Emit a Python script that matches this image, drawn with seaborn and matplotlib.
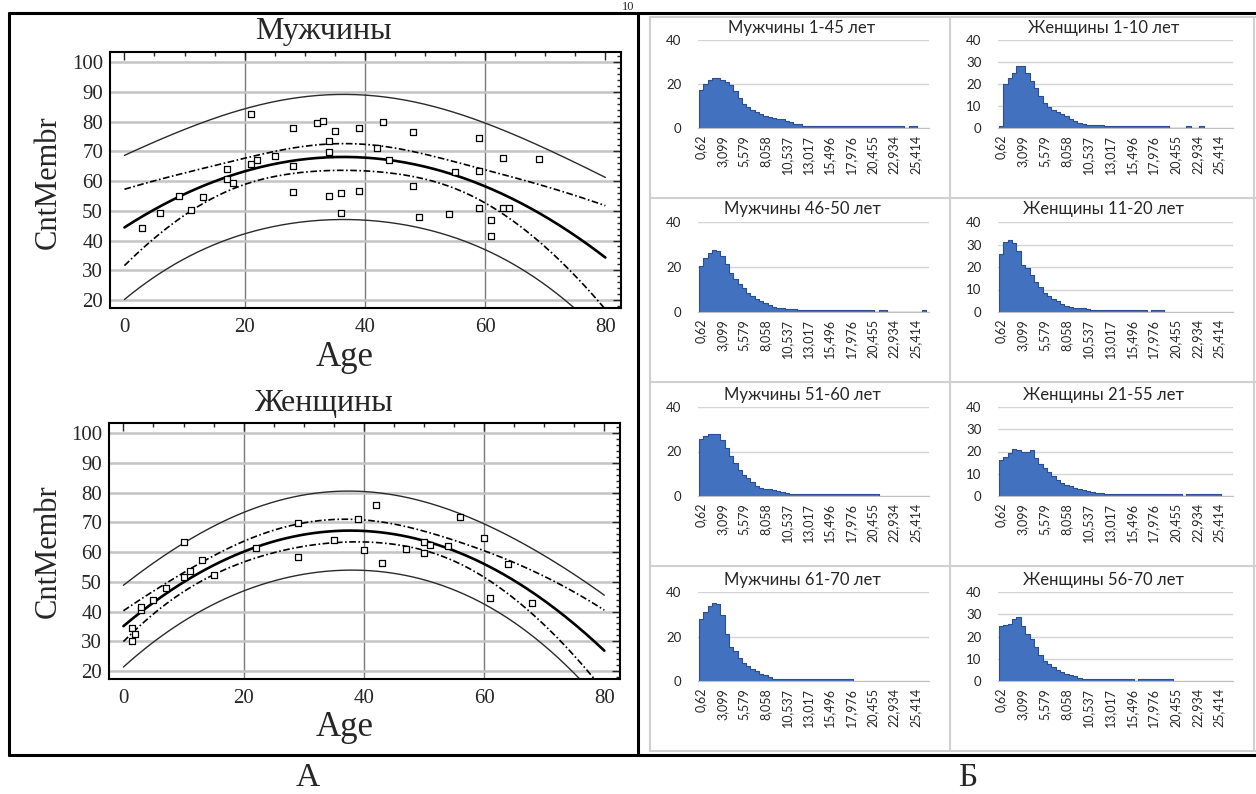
"""Age vs CntMembr quadratic fits (left) and length histograms by age group (right)."""
import numpy as np
import pandas as pd
import matplotlib
matplotlib.use('Agg')
import matplotlib.pyplot as plt
from matplotlib.lines import Line2D
from matplotlib.ticker import MultipleLocator
import seaborn as sns

sns.set_style('white')
plt.rcParams['font.family'] = ['Liberation Serif', 'DejaVu Serif']

W, H = 1256, 794

# ---- scatter data ----
men_age = [3, 6, 9, 11, 13, 17, 17, 18, 21, 21, 22, 25, 28, 28, 28, 32, 33, 34, 34, 34, 35,
           36, 36, 39, 39, 42, 43, 44, 48, 48, 49, 54, 55, 59, 59, 59, 61, 61, 63, 63, 64, 69]
men_cnt = [44.1, 49.1, 55.0, 50.4, 54.7, 64.1, 60.6, 59.3, 82.7, 65.8, 67.1, 68.5, 77.7, 65.2,
           56.3, 79.6, 80.3, 73.5, 69.9, 54.9, 76.8, 56.0, 49.1, 77.7, 56.6, 71.0, 80.0, 67.1,
           76.4, 58.4, 47.9, 48.8, 62.9, 74.6, 63.3, 51.1, 46.8, 41.6, 67.6, 51.0, 51.1, 67.3]
women_age = [1.4, 1.4, 2, 3, 3, 5, 7, 10, 10, 11, 13, 15, 22, 29, 29, 35, 39, 40, 42, 43, 47,
             50, 50, 51, 54, 56, 60, 61, 64, 68]
women_cnt = [30.2, 34.4, 32.6, 40.6, 41.6, 44.0, 48.0, 63.3, 51.5, 53.7, 57.3, 52.2, 61.2, 69.6,
             58.5, 64.2, 71.1, 60.7, 75.7, 56.4, 61.0, 63.3, 59.7, 62.3, 61.9, 71.9, 64.8, 44.5,
             56.1, 42.9]
t_crit = {'men': 2.023, 'women': 2.052}   # t(0.975, n-3)

# ---- histogram data: counts per pair of categories (step 2 on the category axis) ----
cat_labels = ['0,62', '3,099', '5,579', '8,058', '10,537', '13,017', '15,496', '17,976',
              '20,455', '22,934', '25,414']
m1_45 = [17.5, 20, 22, 22.6, 22.5, 21.8, 21, 19.5, 17, 13.5, 11, 9.5, 8.3, 7.2, 6.2, 5.5, 5,
         4.6, 4.2, 3.9, 3.3, 2.6, 2, 1.6,
         1, 1, 1, 1, 1, 1, 1, 1, 1, 1, 1, 1, 1, 1, 1, 1, 1, 1, 1, 1, 1, 1, 1, 1,
         0, 1, 1]
w1_10 = [1, 20, 22.5, 25, 28, 28, 25, 21.5, 18, 14.5, 11.5, 9.5, 8.3, 7.2, 6.2, 5.3, 4.3, 3,
         2.2, 1.8, 1.5, 1.5, 1.5, 1.2,
         1, 1, 1, 1, 1, 1, 1, 1, 1, 1, 1, 1, 1, 1, 1,
         0, 0, 0, 0, 1, 0, 0, 1]
m46_50 = [20.5, 24, 26.3, 27.5, 27, 25, 21.5, 17.5, 14.5, 12.5, 10.5, 8.5, 7, 5.8, 4.8, 3.8, 3,
          2.4, 1.9, 1.6, 1.5, 1.5, 1.3,
          1, 1, 1, 1, 1, 1, 1, 1, 1, 1, 1, 1, 1, 1, 1, 1, 1, 1,
          0, 1, 1, 0, 0, 0, 0, 0, 0, 0, 0, 1]
w11_20 = [26, 31, 32, 30.5, 27, 21, 19.5, 16.5, 13.5, 11, 8.5, 7, 6, 5, 3.5, 2.8, 2.3, 2, 1.8,
          1.6, 1.4,
          1, 1, 1, 1, 1, 1, 1, 1, 1, 1, 1, 1, 1,
          0, 1, 1, 1]
m51_60 = [25.5, 27, 28, 28, 27.8, 25, 21.5, 18, 15, 11.5, 9.5, 8.3, 6.5, 4.5, 3.7, 3.3, 3, 2.5,
          2.2, 1.8, 1.5,
          1, 1, 1, 1, 1, 1, 1, 1, 1, 1, 1, 1, 1, 1, 1, 1, 1, 1, 1, 1, 1]
w21_55 = [16, 17.5, 19.5, 21, 20.5, 20, 19.8, 20.5, 17, 14.5, 12.5, 10.8, 9, 7.3, 5.8, 4.8, 4.3,
          3.8, 3.2, 2.6, 2.1, 1.7, 1.5, 1.4,
          1, 1, 1, 1, 1, 1, 1, 1, 1, 1, 1, 1, 1, 1, 1, 1, 1, 1,
          0, 1, 1, 1, 1, 1, 1, 1, 1]
m61_70 = [28, 31, 33.5, 35, 34.5, 29.5, 21, 15.5, 13.5, 10.5, 8, 6.8, 5.5, 4.5, 3.3, 2.7, 1.8,
          1, 1, 1, 1, 1, 1, 1, 1, 1, 1, 1, 1, 1, 1, 1, 1, 1, 1, 1]
w56_70 = [24.7, 25, 25.5, 28, 28.8, 24.5, 21, 19, 15.5, 11.5, 9, 7.8, 6.2, 5, 4, 3.2, 2.7, 2.2,
          1.5,
          1, 1, 1, 1, 1, 1, 1, 1, 1, 1, 1, 1,
          0, 1, 1, 1, 1, 1, 1, 1, 1]

hist_panels = [
    ('Мужчины 1-45 лет', m1_45, [0, 20, 40]),
    ('Женщины 1-10 лет', w1_10, [0, 10, 20, 30, 40]),
    ('Мужчины 46-50 лет', m46_50, [0, 20, 40]),
    ('Женщины 11-20 лет', w11_20, [0, 10, 20, 30, 40]),
    ('Мужчины 51-60 лет', m51_60, [0, 20, 40]),
    ('Женщины 21-55 лет', w21_55, [0, 10, 20, 30, 40]),
    ('Мужчины 61-70 лет', m61_70, [0, 20, 40]),
    ('Женщины 56-70 лет', w56_70, [0, 10, 20, 30, 40]),
]


def px_rect(l, t, r, b):
    return [l / W, 1 - b / H, (r - l) / W, (b - t) / H]


def fig_line(x0, y0, x1, y1, **kw):
    fig.add_artist(Line2D([x0 / W, x1 / W], [1 - y0 / H, 1 - y1 / H],
                          transform=fig.transFigure, **kw))


def quad_bands(x, y, t):
    x = np.asarray(x, float)
    y = np.asarray(y, float)
    X = np.column_stack([np.ones_like(x), x, x ** 2])
    beta, *_ = np.linalg.lstsq(X, y, rcond=None)
    resid = y - X @ beta
    s = np.sqrt(resid @ resid / (len(x) - 3))
    cov = np.linalg.inv(X.T @ X)
    xs = np.linspace(0, 80, 200)
    Xs = np.column_stack([np.ones_like(xs), xs, xs ** 2])
    fit = Xs @ beta
    h = np.einsum('ij,jk,ik->i', Xs, cov, Xs)
    ci = t * s * np.sqrt(h)
    pi = t * s * np.sqrt(1 + h)
    return pd.DataFrame({'x': xs, 'fit': fit, 'ci_lo': fit - ci, 'ci_hi': fit + ci,
                         'pi_lo': fit - pi, 'pi_hi': fit + pi})


fig = plt.figure(figsize=(W / 100, H / 100), dpi=100)

# ---- left: scatter + regression ----
scatter_sets = [
    ('Мужчины', men_age, men_cnt, 'men', (110, 52, 621, 308), 31, 357, 182),
    ('Женщины', women_age, women_cnt, 'women', (109, 423, 620, 679), 403, 727, 551),
]
for title, xs, ys, key, box, ty, agey, ymid in scatter_sets:
    ax = fig.add_axes(px_rect(*box))
    bands = quad_bands(xs, ys, t_crit[key])
    for col in ['pi_lo', 'pi_hi']:
        sns.lineplot(data=bands, x='x', y=col, ax=ax, color='#2a2a2a', lw=1.0)
    for col in ['ci_lo', 'ci_hi']:
        sns.lineplot(data=bands, x='x', y=col, ax=ax, color='black', lw=1.2,
                     linestyle=(0, (4, 1.5, 1, 1.5)))
    sns.lineplot(data=bands, x='x', y='fit', ax=ax, color='black', lw=1.9)
    sns.scatterplot(x=xs, y=ys, ax=ax, marker='s', s=17, facecolor='white',
                    edgecolor='black', linewidth=0.9, zorder=5)
    ax.set_xlim(-2.4, 82.6)
    ax.set_ylim(17.3, 103.4)
    ax.set_xticks(range(0, 81, 20))
    ax.set_yticks(range(20, 101, 10))
    ax.xaxis.set_minor_locator(MultipleLocator(5))
    ax.yaxis.set_minor_locator(MultipleLocator(2))
    ax.tick_params(which='both', direction='in', top=True, right=True, labelsize=15, width=1)
    ax.tick_params(which='major', length=6)
    ax.tick_params(which='minor', length=3)
    ax.tick_params(axis='x', pad=7)
    ax.tick_params(axis='y', pad=5)
    ax.grid(axis='y', color='#c4c4c4', lw=1.8)
    ax.grid(axis='x', color='#7a7a7a', lw=1.0)
    xg = ax.get_xgridlines()
    xg[0].set_visible(False)
    xg[-1].set_visible(False)
    ax.set_axisbelow(True)
    for sp in ax.spines.values():
        sp.set_color('black')
        sp.set_linewidth(1.5)
    ax.set_xlabel('')
    ax.set_ylabel('')
    fig.text(323 / W, 1 - ty / H, title, ha='center', va='center', fontsize=23)
    fig.text(345 / W, 1 - agey / H, 'Age', ha='center', va='center', fontsize=25)
    fig.text(48 / W, 1 - ymid / H, 'CntMembr', ha='center', va='center', rotation=90,
             fontsize=22)

# ---- right: histogram grid ----
col_plot = [(698, 929), (998, 1233)]
row_plot = [(40, 128), (222, 312), (407, 496), (592, 681)]
for i, (title, vals, yt) in enumerate(hist_panels):
    r, c = divmod(i, 2)
    (l, rr), (t, b) = col_plot[c], row_plot[r]
    ax = fig.add_axes(px_rect(l, t, rr, b))
    df = pd.DataFrame({'pos': np.arange(len(vals)) * 2, 'n': vals})
    sns.histplot(data=df, x='pos', weights='n', binwidth=2,
                 binrange=(-1, 2 * len(vals) - 1), element='step', fill=True, ax=ax,
                 color='#4271c0', edgecolor='#2a4f96', linewidth=0.8, alpha=1)
    ax.set_xlim(-1.5, 106.5)
    ax.set_ylim(0, 40)
    ax.set_yticks(yt)
    ax.set_xticks(range(0, 101, 10))
    ax.set_xticklabels(cat_labels, rotation=90, family=['Lato', 'DejaVu Sans'],
                       fontsize=9, color='#262626')
    for lab in ax.get_yticklabels():
        lab.set_family(['Lato', 'DejaVu Sans'])
    ax.tick_params(axis='y', labelsize=9.5, labelcolor='#262626', length=0, pad=12)
    ax.tick_params(axis='x', length=0, pad=5)
    ax.grid(axis='y', color='#d4d4d4', lw=1.0)
    ax.grid(axis='x', visible=False)
    ax.set_axisbelow(True)
    for side in ['top', 'right', 'left']:
        ax.spines[side].set_visible(False)
    ax.spines['bottom'].set_color('#bfbfbf')
    ax.set_xlabel('')
    ax.set_ylabel('')
    ax.text(0.45, 1.14, title, transform=ax.transAxes, ha='center', va='center',
            fontsize=12, color='#262626', family=['Lato', 'DejaVu Sans'])

# ---- grid of chart cells on the right ----
cell_kw = dict(color='#d0d0d0', lw=1.5)
for y in [17, 198, 382, 566, 751]:
    fig_line(650, y, 1256, y, **cell_kw)
for x in [650, 950, 1254]:
    fig_line(x, 17, x, 751, **cell_kw)

# ---- outer frame, divider, captions ----
box_kw = dict(color='black', lw=2.2)
fig_line(9, 13, 1256, 13, **box_kw)
fig_line(9, 755, 1256, 755, **box_kw)
fig_line(9, 13, 9, 755, **box_kw)
fig_line(638, 13, 638, 755, **box_kw)
fig.text(628 / W, 1 - 1 / H, '10', ha='center', va='top', fontsize=9)
fig.text(308 / W, 1 - 778 / H, 'А', ha='center', va='center', fontsize=24)
fig.text(968 / W, 1 - 778 / H, 'Б', ha='center', va='center', fontsize=24)

fig.savefig('out.png', dpi=100)
